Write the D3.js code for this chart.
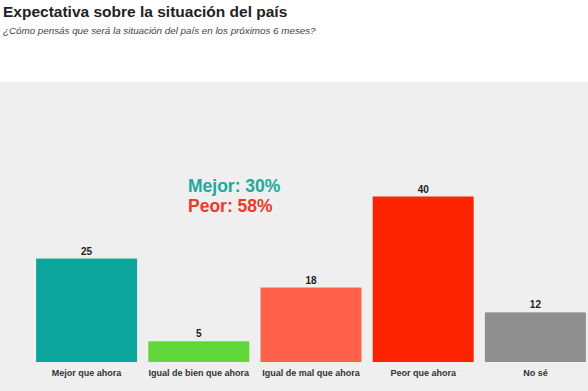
<!DOCTYPE html>
<html>
<head>
<meta charset="utf-8">
<script src="https://cdn.jsdelivr.net/npm/d3@7"></script>
<style>
  body { margin: 0; background: #fff; }
  svg { display: block; font-family: "Liberation Sans", Arial, sans-serif; }
</style>
</head>
<body>
<svg width="588" height="391"></svg>
<script>
const categories = ['Mejor que ahora', 'Igual de bien que ahora', 'Igual de mal que ahora', 'Peor que ahora', 'No sé'];
const values = [25, 5, 18, 40, 12];
const barColors = ['#0ba59b', '#5fd639', '#ff614b', '#ff2400', '#8f8f8f'];
const summary = [['Mejor: 30%', '#22a89c'], ['Peor: 58%', '#ec3a28']];

const W = 588, H = 391;
const PANEL_TOP = 82, BASE = 362;

const svg = d3.select('svg');

// fondo gris del gráfico
svg.append('rect')
    .attr('x', 0).attr('y', PANEL_TOP)
    .attr('width', W).attr('height', H - PANEL_TOP)
    .attr('fill', '#efefef');

// título y subtítulo
svg.append('text')
    .attr('x', 3).attr('y', 17)
    .attr('font-size', 15.5).attr('font-weight', 'bold')
    .attr('fill', '#222')
    .text('Expectativa sobre la situación del país');

svg.append('text')
    .attr('x', 3).attr('y', 34)
    .attr('font-size', 9.8).attr('font-style', 'italic')
    .attr('fill', '#444')
    .text('¿Cómo pensás que será la situación del país en los próximos 6 meses?');

const x = d3.scaleBand()
    .domain(categories)
    .range([30.5, 591.5])
    .paddingInner(0.1)
    .paddingOuter(0.05);

const y = d3.scaleLinear()
    .domain([0, 40])
    .range([BASE, BASE - 165.5]);

svg.selectAll('rect.bar')
    .data(values)
    .join('rect')
    .attr('class', 'bar')
    .attr('x', (d, i) => x(categories[i]))
    .attr('y', d => y(d))
    .attr('width', x.bandwidth())
    .attr('height', d => BASE - y(d))
    .attr('fill', (d, i) => barColors[i]);

svg.selectAll('text.val')
    .data(values)
    .join('text')
    .attr('class', 'val')
    .attr('x', (d, i) => x(categories[i]) + x.bandwidth() / 2)
    .attr('y', d => y(d) - 4)
    .attr('text-anchor', 'middle')
    .attr('font-size', 10).attr('font-weight', 'bold')
    .attr('fill', '#222')
    .text(d => d);

// etiquetas del eje x
svg.selectAll('text.cat')
    .data(categories)
    .join('text')
    .attr('class', 'cat')
    .attr('x', d => x(d) + x.bandwidth() / 2)
    .attr('y', 376)
    .attr('text-anchor', 'middle')
    .attr('font-size', 9).attr('font-weight', 'bold')
    .attr('fill', '#333')
    .text(d => d);

// resumen Mejor / Peor
summary.forEach(function (s, i) {
    svg.append('text')
        .attr('x', 188).attr('y', 192 + i * 20)
        .attr('font-size', 17.5).attr('font-weight', 'bold')
        .attr('fill', s[1])
        .text(s[0]);
});
</script>
</body>
</html>
